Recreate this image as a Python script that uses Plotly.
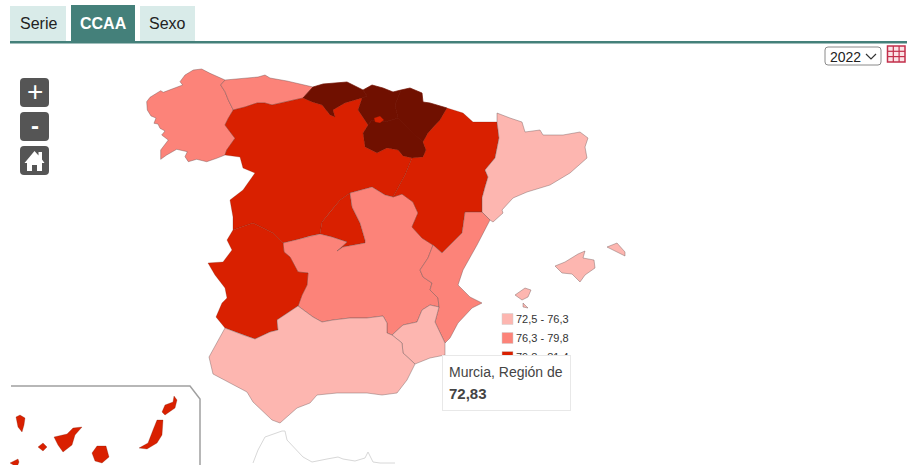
import plotly.graph_objects as go

# ---------- data ----------
year = "2022"
tabs = ["Serie", "CCAA", "Sexo"]
class_breaks = [72.5, 76.3, 79.8, 81.4, 84.0]
class_labels = ["72,5 - 76,3", "76,3 - 79,8", "79,8 - 81,4"]
class_colors = ["#fdb6b0", "#fc8379", "#d92000", "#701000"]
class_lines = ["rgba(110,90,90,0.6)", "rgba(110,80,80,0.6)", "rgba(110,20,0,0.35)", "#701000"]

region_names = ["Galicia", "Asturias", "Cantabria", "País Vasco", "Navarra", "La Rioja",
                "Castilla y León", "Madrid", "Castilla-La Mancha", "Extremadura", "Aragón",
                "Cataluña", "Comunitat Valenciana", "Murcia, Región de", "Andalucía",
                "Balears, Illes", "Canarias"]
region_values = [78.0, 78.2, 83.0, 83.2, 82.6, 82.2, 80.6, 80.4, 77.6, 80.2, 80.8,
                 75.2, 77.8, 72.83, 74.2, 75.0, 80.3]

# region outlines, in map units
galicia = [[(146.7,101.7),(150,97.3),(160.7,90.7),(163.3,92.3),(180,86),(182.7,85),(180,81.7),(185,75),(193.3,70),(201.7,69),(210,73.3),(220,78.3),(225,80),(220.7,85),(225,91.7),(228.3,100),(230.7,105),(233.3,110),(228.3,118.3),(225,125),(230,131.7),(235,138.3),(226.7,150),(225,155),(216.7,158.3),(206.7,161.7),(196.7,159.3),(188.3,161.7),(185,156.7),(187.3,151.7),(176.7,149.3),(166.7,155),(160.7,159.3),(160.7,150),(168.3,140),(161.7,135),(165,131),(160,128.3),(158,124),(154,123.3),(156,118),(151,116),(147.3,110)]]
asturias = [[(225,80),(243,78),(258,77),(265,75),(270,78),(287,81),(313,87),(303,98),(293,100),(280,103),(272,105),(265,103),(257,103),(245,107),(233.3,110),(230.7,105),(228.3,100),(225,91.7),(220.7,85)]]
cantabria = [[(303,98),(313,87),(323,84),(338,83),(347,82),(357,87),(363,90),(367,96),(362,98),(345,103),(333,110),(335,117),(330,115),(322,105),(312,102)]]
pais_vasco = [[(363,90),(372,85),(383,88),(393,92),(401,90),(395,105),(398,118),(385,122),(372,120),(368,125),(358,110),(362,98),(367,96)]]
navarra = [[(401,90),(410,88),(422,93),(423,102),(430,103),(447,108),(440,120),(428,133),(423,142),(415,135),(405,125),(398,118),(395,105)]]
rioja = [[(368,125),(372,120),(385,122),(398,118),(405,125),(415,135),(423,142),(426,150),(423,157),(412,158),(403,156),(398,150),(387,148),(377,153),(365,147),(363,133)]]
castilla_leon = [[(233.3,110),(245,107),(257,103),(265,103),(272,105),(280,103),(293,100),(303,98),(312,102),(322,105),(330,115),(335,117),(333,110),(345,103),(362,98),(358,110),(368,125),(363,133),(365,147),(377,153),(387,148),(398,150),(403,156),(412,158),(405,175),(397,190),(393,197),(385,195),(372,187),(350,193),(340,200),(330,212),(322,222),(320,234),(310,236),(296,240),(283,243),(273,233),(253,223),(233,230),(233,217),(230,200),(243,190),(255,173),(243,168),(240,157),(225,155),(226.7,150),(235,138.3),(230,131.7),(225,125),(228.3,118.3)],
                 [(374,118),(380,116),(384,120),(380,123),(375,122)]]
madrid = [[(320,234),(332,237),(347,242),(337,251),(343,247),(365,243),(365,240),(360,223),(352,207),(350,193),(340,200),(330,212),(322,222)]]
castilla_mancha = [[(283,243),(296,240),(310,236),(320,234),(332,237),(347,242),(337,251),(343,247),(365,243),(365,240),(360,223),(352,207),(350,193),(372,187),(385,195),(393,197),(402,194),(413,202),(418,213),(412,227),(422,238),(433,245),(432,248),(428,258),(420,270),(423,277),(432,283),(430,290),(438,298),(439,307),(430,305),(422,310),(417,322),(403,325),(392,335),(387,333),(387,323),(383,316),(367,318),(350,318),(333,320),(322,322),(313,317),(298,306),(302,295),(307,285),(308,273),(298,272),(290,257),(284,252)]]
extremadura = [[(233,230),(227,240),(232,250),(223,262),(208,263),(215,275),(225,288),(227,298),(222,303),(216,317),(225,328),(243,335),(255,339),(270,332),(278,330),(277,320),(298,306),(302,295),(307,285),(308,273),(298,272),(290,257),(284,252),(283,243),(273,233),(253,223)]]
aragon = [[(412,158),(423,157),(426,150),(423,142),(428,133),(440,120),(447,108),(463,113),(473,122),(497,122),(499,138),(495,158),(485,170),(488,177),(485,187),(482,198),(482,212),(465,212),(462,233),(442,253),(433,245),(422,238),(412,227),(418,213),(413,202),(402,194),(393,197),(397,190),(405,175)]]
cataluna = [[(497,122),(497,113),(510,118),(522,122),(525,132),(540,130),(543,135),(563,135),(580,132),(588,138),(585,147),(587,158),(570,173),(550,185),(527,192),(513,198),(502,210),(503,213),(493,222),(490,220),(482,212),(482,198),(485,187),(488,177),(485,170),(495,158),(499,138)]]
valencia = [[(482,212),(490,220),(477,245),(463,270),(458,285),(470,297),(482,303),(472,308),(458,323),(450,338),(445,343),(435,322),(439,307),(438,298),(430,290),(432,283),(423,277),(420,270),(428,258),(432,248),(433,245),(442,253),(462,233),(465,212)]]
murcia = [[(392,335),(403,325),(417,322),(422,310),(430,305),(439,307),(435,322),(445,343),(445,355),(430,358),(415,364),(403,353),(402,343)]]
andalucia = [[(298,306),(313,317),(322,322),(333,320),(350,318),(367,318),(383,316),(387,323),(387,333),(392,335),(402,343),(403,353),(415,364),(407,380),(397,393),(382,395),(367,393),(337,393),(317,395),(310,403),(297,408),(280,423),(272,420),(253,402),(247,392),(230,383),(213,374),(209,357),(218,340),(225,328),(243,335),(255,339),(270,332),(278,330),(277,320)]]
baleares = [[(555,266),(565,262),(578,254),(585,251),(583,258),(594,260),(595,268),(585,275),(580,282),(572,274),(562,273)],
            [(607,247),(617,243),(625,252),(625,256),(617,252)],
            [(515,295),(525,288),(531,290),(528,297),(522,300)],
            [(523,303),(528,308),(523,307)]]
canarias = [[(16,417),(20,415),(25,418),(24,425),(22,432),(18,427)],
            [(38,447),(43,443),(47,447),(43,451)],
            [(54,437),(67,434),(73,428),(82,427),(75,435),(72,445),(63,452),(58,445)],
            [(92,453),(97,446),(106,446),(109,457),(102,463),(95,461)],
            [(139,448),(148,443),(153,430),(157,420),(163,420),(162,435),(157,443),(147,449)],
            [(162,412),(165,405),(173,402),(174,396),(177,400),(175,408),(165,415)],
            [(10,463),(18,459),(19,462),(17,467)]]
region_shapes = [galicia, asturias, cantabria, pais_vasco, navarra, rioja, castilla_leon, madrid,
                 castilla_mancha, extremadura, aragon, cataluna, valencia, murcia, andalucia,
                 baleares, canarias]
morocco_outline = [(253,463),(258,450),(265,437),(282,431),(285,431),(287,440),(303,457),(312,462),(327,459),(338,457),(343,459),(355,461),(365,458),(368,452),(373,462),(380,463),(395,463)]
inset_frame = [(11,386),(190,386),(200,399),(200,465)]

TEAL = "#44807a"
PALE = "#d9ebe9"
FONT = "Liberation Sans"


def class_index(v):
    for i in range(len(class_colors)):
        if v < class_breaks[i + 1]:
            return i
    return len(class_colors) - 1


fig = go.Figure()

fig.add_trace(go.Scatter(x=[p[0] for p in morocco_outline], y=[p[1] for p in morocco_outline],
                         mode="lines", line=dict(color="#d8d8d8", width=1), hoverinfo="skip"))
fig.add_trace(go.Scatter(x=[p[0] for p in inset_frame], y=[p[1] for p in inset_frame],
                         mode="lines", line=dict(color="#a0a0a0", width=1.5), hoverinfo="skip"))

for name, val, rings in zip(region_names, region_values, region_shapes):
    xs, ys = [], []
    for ring in rings:
        xs += [p[0] for p in ring] + [ring[0][0], None]
        ys += [p[1] for p in ring] + [ring[0][1], None]
    k = class_index(val)
    fig.add_trace(go.Scatter(x=xs, y=ys, mode="lines", fill="toself", name=name,
                             fillcolor=class_colors[k],
                             line=dict(color=class_lines[k], width=0.7),
                             hovertemplate=name + "<br><b>%{text}</b><extra></extra>",
                             text=[f"{val:.2f}".replace(".", ",")] * len(xs)))

shapes = []
annotations = []


def rect(x0, y0, x1, y1, fill, line=None, lw=0):
    shapes.append(dict(type="rect", xref="x", yref="y", x0=x0, y0=y0, x1=x1, y1=y1,
                       fillcolor=fill, line=dict(color=line or fill, width=lw), layer="above"))


def rrect(x0, y0, x1, y1, r, fill, line=None, lw=0):
    p = (f"M{x0+r},{y0} L{x1-r},{y0} Q{x1},{y0} {x1},{y0+r} L{x1},{y1-r} Q{x1},{y1} {x1-r},{y1} "
         f"L{x0+r},{y1} Q{x0},{y1} {x0},{y1-r} L{x0},{y0+r} Q{x0},{y0} {x0+r},{y0} Z")
    shapes.append(dict(type="path", xref="x", yref="y", path=p, fillcolor=fill,
                       line=dict(color=line or fill, width=lw), layer="above"))


def text(x, y, s, size, color="#222", anchor="center", bold=False):
    annotations.append(dict(x=x, y=y, xref="x", yref="y", text=f"<b>{s}</b>" if bold else s,
                            showarrow=False, xanchor=anchor, yanchor="middle",
                            font=dict(family=FONT, size=size, color=color)))


# tabs
for (x0, x1, y0), label in zip([(10, 66, 6), (71, 135, 5), (140, 195, 6)], tabs):
    active = label == "CCAA"
    rect(x0, y0, x1, 42, TEAL if active else PALE)
    text((x0 + x1) / 2, 23, label, 16, "#ffffff" if active else "#222", bold=active)
rect(10, 41, 907, 43.5, TEAL)

# zoom buttons
for y0 in (78, 112, 146):
    rrect(20, y0, 49, y0 + 29, 4, "#555555")
text(34.5, 91, "+", 28, "#ffffff")
text(34.5, 125, "-", 24, "#ffffff", bold=True)
shapes.append(dict(type="path", xref="x", yref="y",
                   path="M24.5,163 L34.5,151 L38.5,155.5 L38.5,152 L42,152 L42,159.5 L44.5,163 L42,163 L42,171 "
                        "L37,171 L37,165 L32,165 L32,171 L27,171 L27,163 Z",
                   fillcolor="#ffffff", line=dict(color="#ffffff", width=0), layer="above"))

# year selector and table icon
rrect(825, 47, 881, 65, 3, "#ffffff", "#8a8a8a", 1)
text(845, 56.5, year, 14, "#222")
shapes.append(dict(type="path", xref="x", yref="y", path="M866,54 L871,59 L876,54",
                   line=dict(color="#333333", width=1.2), layer="above"))
rect(887.5, 46, 905, 62, "#fbe3e6", "#c22f4b", 1.5)
for gx in (893.3, 899.1):
    shapes.append(dict(type="line", xref="x", yref="y", x0=gx, x1=gx, y0=46, y1=62,
                       line=dict(color="#c22f4b", width=1.2), layer="above"))
for gy in (51.3, 56.6):
    shapes.append(dict(type="line", xref="x", yref="y", x0=887.5, x1=905, y0=gy, y1=gy,
                       line=dict(color="#c22f4b", width=1.2), layer="above"))

# legend
for i, (label, ypos) in enumerate(zip(class_labels, (319, 338, 357))):
    rect(502, ypos - 5.5, 513, ypos + 5.5, class_colors[i], "#cfcfcf", 0.5)
    text(514, ypos, label, 11, "#333", anchor="left")

# tooltip
annotations.append(dict(x=442, y=355, xref="x", yref="y", text=" ", showarrow=False,
                        xanchor="left", yanchor="top", width=125, height=52, bgcolor="#ffffff",
                        bordercolor="#e8e8e8", borderwidth=1, font=dict(size=10)))
text(447, 372, region_names[13], 14, "#444", anchor="left")
text(447, 393, f"{region_values[13]:.2f}".replace(".", ","), 15, "#444", anchor="left", bold=True)

fig.update_layout(width=911, height=465, margin=dict(l=0, r=0, t=0, b=0),
                  paper_bgcolor="#ffffff", plot_bgcolor="#ffffff", showlegend=False,
                  xaxis=dict(range=[0, 911], visible=False, fixedrange=True),
                  yaxis=dict(range=[465, 0], visible=False, fixedrange=True),
                  shapes=shapes, annotations=annotations, font=dict(family=FONT))

fig.write_html("out.html", config={"displayModeBar": False},
               post_script="document.body.style.margin='0';document.body.style.overflow='hidden';")
